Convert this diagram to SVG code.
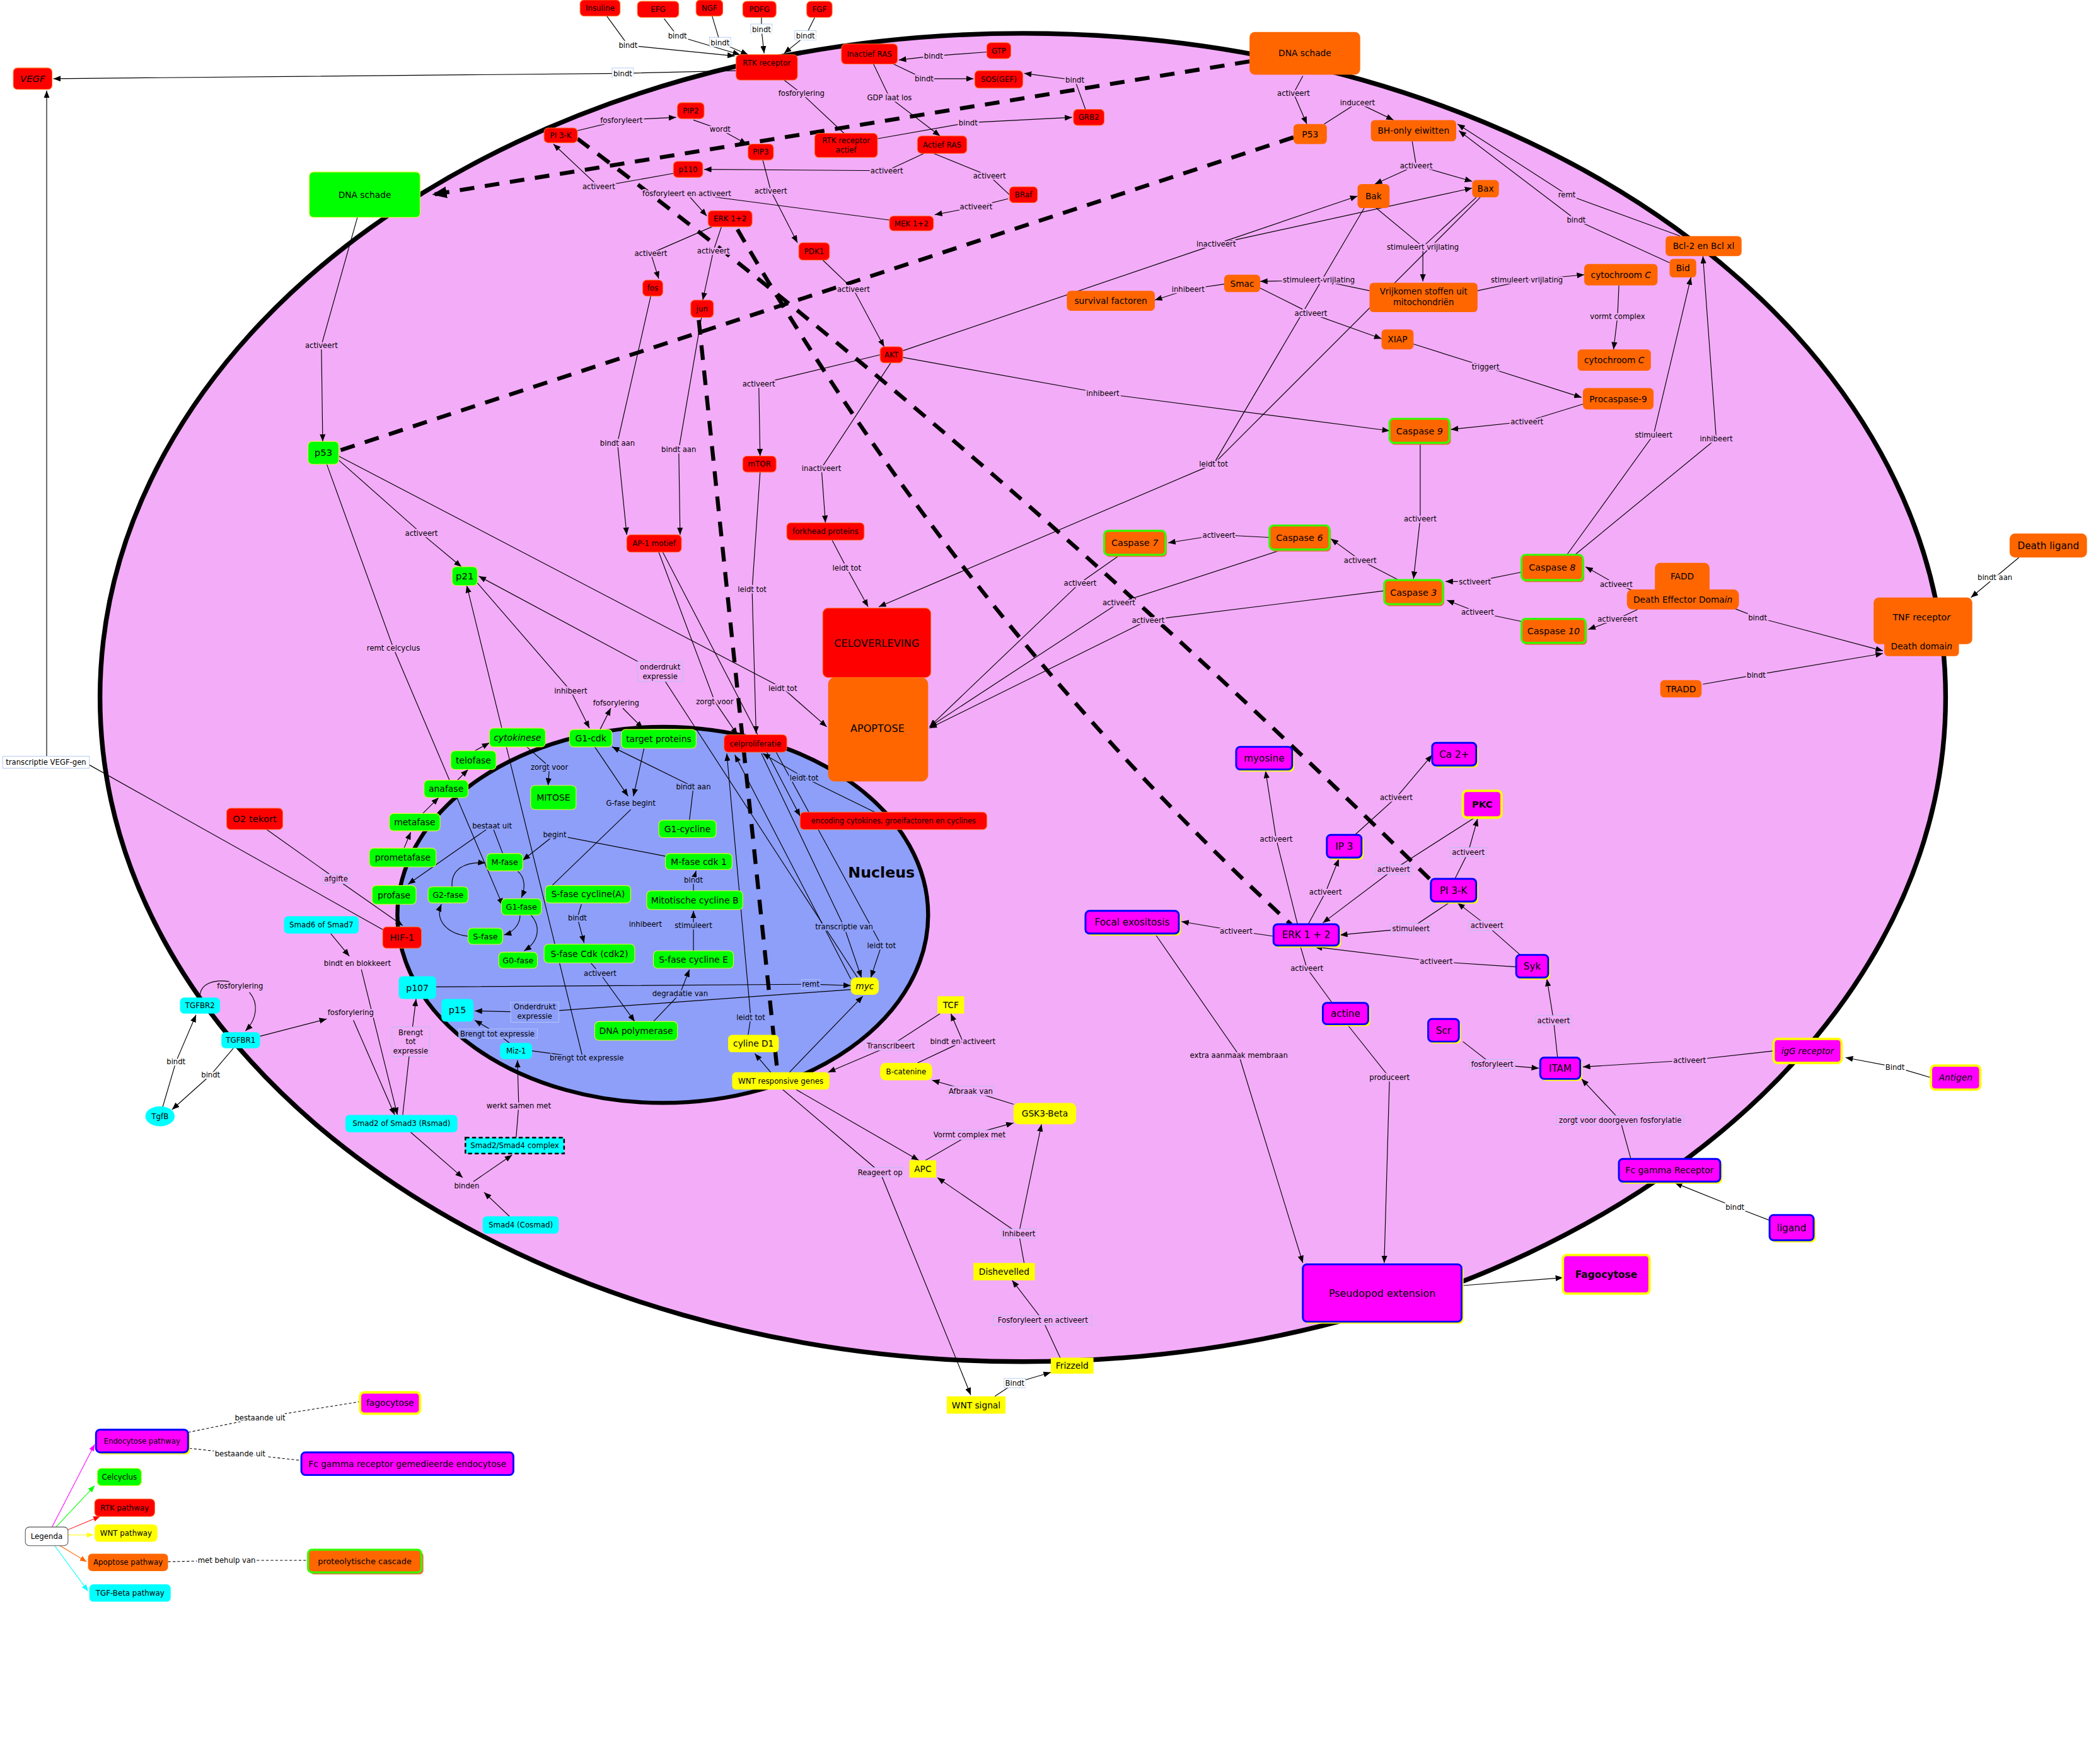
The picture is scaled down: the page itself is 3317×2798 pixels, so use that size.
<svg xmlns="http://www.w3.org/2000/svg" width="3317" height="2798" viewBox="0 0 3317 2798">
<style>
.t{font-family:"DejaVu Sans",Verdana,sans-serif;text-anchor:middle;fill:#000}
.f54{font-size:5.4px}.f56{font-size:5.6px}.f6{font-size:6px}.f63{font-size:6.3px}.f65{font-size:6.5px}.f66{font-size:6.6px}.f68{font-size:6.8px}.f7{font-size:7px}.f72{font-size:7.2px}.f75{font-size:7.5px}.f77{font-size:7.7px}
.i{font-style:italic}.bd{font-weight:bold}
.r{fill:#ff0000;stroke:#ff6a1a;stroke-width:.5}
.o{fill:#ff6600}
.g{fill:#00ff00;stroke:#d8ff2a;stroke-width:.5}
.y{fill:#ffff00}
.c{fill:#00ffff}
.m{fill:#ff00ff;stroke:#0000ff;stroke-width:1.4}
.my{fill:#ff00ff;stroke:#ffff00;stroke-width:1.8}
.cs{fill:#ff6600;stroke:#33ff00;stroke-width:1.5}
.ysh{fill:#ffff00}.osh{fill:#e8703c}
.k{fill:none;stroke:#000;stroke-width:.55}
.a{marker-end:url(#ah)}
.dsh{fill:none;stroke:#000;stroke-width:3;stroke-dasharray:11 8}
.dl{fill:none;stroke:#000;stroke-width:.5;stroke-dasharray:2 1.5}
.l{font-family:"DejaVu Sans",Verdana,sans-serif;font-size:5.5px;text-anchor:middle;fill:#000;paint-order:stroke;stroke-width:2.2px;stroke-linejoin:round}
.p{stroke:#f3acf8}.b{stroke:#8e9ffa}.w{stroke:#ffffff}
.bxp{fill:#f3acf8;stroke:#a9c3ef;stroke-width:.4}.bxb{fill:#8e9ffa;stroke:#b9cdf3;stroke-width:.4}.bxw{fill:#ffffff;stroke:#a9c3ef;stroke-width:.4}
</style>
<defs>
<marker id="ah" viewBox="0 0 10 8" refX="10" refY="4" markerWidth="5.5" markerHeight="4.4" markerUnits="userSpaceOnUse" orient="auto"><path d="M0,0L10,4L0,8z" fill="#000"/></marker>
<marker id="big" viewBox="0 0 10 8" refX="10" refY="4" markerWidth="11" markerHeight="9" markerUnits="userSpaceOnUse" orient="auto"><path d="M0,0L10,4L0,8z" fill="#000"/></marker>
<marker id="amM" viewBox="0 0 10 8" refX="10" refY="4" markerWidth="5" markerHeight="4" markerUnits="userSpaceOnUse" orient="auto"><path d="M0,0L10,4L0,8z" fill="#ff00ff"/></marker>
<marker id="amG" viewBox="0 0 10 8" refX="10" refY="4" markerWidth="5" markerHeight="4" markerUnits="userSpaceOnUse" orient="auto"><path d="M0,0L10,4L0,8z" fill="#00ff00"/></marker>
<marker id="amR" viewBox="0 0 10 8" refX="10" refY="4" markerWidth="5" markerHeight="4" markerUnits="userSpaceOnUse" orient="auto"><path d="M0,0L10,4L0,8z" fill="#ff0000"/></marker>
<marker id="amY" viewBox="0 0 10 8" refX="10" refY="4" markerWidth="5" markerHeight="4" markerUnits="userSpaceOnUse" orient="auto"><path d="M0,0L10,4L0,8z" fill="#ffff00"/></marker>
<marker id="amO" viewBox="0 0 10 8" refX="10" refY="4" markerWidth="5" markerHeight="4" markerUnits="userSpaceOnUse" orient="auto"><path d="M0,0L10,4L0,8z" fill="#ff6600"/></marker>
<marker id="amC" viewBox="0 0 10 8" refX="10" refY="4" markerWidth="5" markerHeight="4" markerUnits="userSpaceOnUse" orient="auto"><path d="M0,0L10,4L0,8z" fill="#00ffff"/></marker>
</defs>
<rect width="3317" height="2798" fill="#fff"/>
<g transform="scale(2.1154)">
<g id="cell">
<ellipse cx="767" cy="523" rx="692" ry="498" fill="#f3acf8" stroke="#000" stroke-width="3.5"/>
<ellipse cx="497" cy="686" rx="199" ry="141" fill="#8e9ffa" stroke="#000" stroke-width="3"/>
<text class="t bd" x="661" y="658" style="font-size:11.2px">Nucleus</text>
</g>
<g id="connectors">
<path class="dsh" d="M937,46L324,146" marker-end="url(#big)"/>
<path class="dsh" d="M970,103L254,338"/>
<path class="dsh" d="M433,104Q748,340 1073,660"/>
<path class="dsh" d="M553,172Q723,467 968,693"/>
<path class="dsh" d="M524,240L583,804"/>
<path class="k a" d="M455,12L471,34L551,42"/>
<path class="k a" d="M498,14L508,27L555,41"/>
<path class="k a" d="M534,12L540,32L561,41"/>
<path class="k a" d="M571,13L571,22L573,40"/>
<path class="k a" d="M611,13L604,27L588,40"/>
<path class="k a" d="M552,53L467,55L40,59"/>
<path class="k a" d="M740,39L700,42L674,45"/>
<path class="k a" d="M670,48L693,59L730,59"/>
<path class="k a" d="M814,82L806,60L768,55"/>
<path class="k" d="M588,60L601,70L633,100"/>
<path class="k a" d="M655,48L667,73L705,102"/>
<path class="k a" d="M658,104L726,92L804,88"/>
<path class="k a" d="M433,98L466,90L507,88"/>
<path class="k a" d="M520,90L540,97L560,108"/>
<path class="k a" d="M693,115L665,128L528,127"/>
<path class="k a" d="M505,130L449,140L415,108"/>
<path class="k" d="M700,115L742,132L757,146"/>
<path class="k a" d="M756,149L732,155L701,161"/>
<path class="k a" d="M667,165L515,145L530,162"/>
<path class="k a" d="M572,120L578,143L598,182"/>
<path class="k a" d="M534,170L488,190L494,209"/>
<path class="k a" d="M541,170L535,188L527,225"/>
<path class="k a" d="M617,195L640,217L663,260"/>
<path class="k a" d="M660,266L569,288L570,342"/>
<path class="k a" d="M668,272L616,351L619,392"/>
<path class="k a" d="M677,268L827,295L1042,323"/>
<path class="k" d="M677,263L912,183"/>
<path class="k a" d="M912,183L1018,147"/>
<path class="k a" d="M912,183L1104,141"/>
<path class="k a" d="M488,222L463,332L470,401"/>
<path class="k a" d="M526,238L509,337L510,401"/>
<path class="k a" d="M268,163L241,259L242,331"/>
<path class="k a" d="M254,345L316,400L346,425"/>
<path class="k a" d="M254,342L587,516L620,545"/>
<path class="k a" d="M245,348L295,486L377,679"/>
<path class="k a" d="M357,436L428,518L442,546"/>
<path class="k a" d="M643,733L495,505L359,432"/>
<path class="k a" d="M450,547L458,531"/>
<path class="k a" d="M467,531L482,546"/>
<path class="k a" d="M399,788L437,793L350,439"/>
<path class="k a" d="M382,782L373,775L356,765"/>
<path class="k a" d="M395,560L412,575L411,589"/>
<path class="k a" d="M377,640L369,619L306,663"/>
<path class="k a" d="M499,642L416,626L392,645"/>
<path class="k a" d="M520,668L520,660L522,653"/>
<path class="k a" d="M520,713L520,694L520,683"/>
<path class="k a" d="M436,678L433,688L438,707"/>
<path class="k a" d="M443,722L450,730L476,766"/>
<path class="k a" d="M490,766L510,745L517,727"/>
<path class="k a" d="M446,560L471,597"/>
<path class="k a" d="M483,561L475,597"/>
<path class="k" d="M473,607L414,664"/>
<path class="k a" d="M517,615L520,590L459,560"/>
<path class="k a" d="M339,665C338,652 348,646 364,647"/>
<path class="k a" d="M388,653C394,658 394,666 391,673"/>
<path class="k a" d="M390,686C390,693 385,699 378,701"/>
<path class="k a" d="M351,702C335,700 326,690 331,678"/>
<path class="k a" d="M398,686C406,695 404,706 393,713"/>
<path class="k a" d="M303,636L308,624"/>
<path class="k a" d="M317,610L329,598"/>
<path class="k a" d="M343,585L351,577"/>
<path class="k a" d="M356,563L367,557"/>
<path class="k a" d="M494,414L536,526L553,551"/>
<path class="k a" d="M497,414L600,612"/>
<path class="k a" d="M656,609L603,583L572,565"/>
<path class="k a" d="M570,354L564,442L567,550"/>
<path class="k a" d="M561,776L563,763L545,565"/>
<path class="k a" d="M638,734L551,566"/>
<path class="k a" d="M571,565L633,695L646,733"/>
<path class="k a" d="M582,564L661,709L653,733"/>
<path class="k a" d="M578,804L566,790"/>
<path class="k a" d="M592,804L647,747"/>
<path class="k a" d="M705,760L668,784L621,804"/>
<path class="k a" d="M688,797L722,781L713,760"/>
<path class="k a" d="M760,828L728,818L699,810"/>
<path class="k a" d="M694,870L727,851L760,842"/>
<path class="k a" d="M597,817L689,870"/>
<path class="k a" d="M587,817L660,879L728,1046"/>
<path class="k" d="M768,947L764,925"/>
<path class="k a" d="M764,925L781,843"/>
<path class="k a" d="M764,925L703,883"/>
<path class="k a" d="M795,1018L782,990L759,960"/>
<path class="k a" d="M746,1047L761,1037L788,1029"/>
<path class="k a" d="M122,830L132,796L147,761"/>
<path class="k a" d="M175,786L158,806L129,832"/>
<path class="k" d="M150,747C150,738 160,734 172,736"/>
<path class="k a" d="M187,744C194,752 193,764 184,773"/>
<path class="k a" d="M195,777L245,764"/>
<path class="k a" d="M265,765L296,836"/>
<path class="k a" d="M248,700L262,717"/>
<path class="k a" d="M271,727L298,836"/>
<path class="k a" d="M302,836L308,781L312,749"/>
<path class="k a" d="M308,849L347,883"/>
<path class="k a" d="M382,912L363,894"/>
<path class="k a" d="M355,886L384,866"/>
<path class="k a" d="M387,853L389,829L388,795"/>
<path class="k a" d="M327,740L608,738L638,739"/>
<path class="k a" d="M638,742L401,759L356,758"/>
<path class="k a" d="M200,622L252,659L302,694"/>
<path class="k" d="M287,697L66,573"/>
<path class="k a" d="M35,567L35,68"/>
<path class="k a" d="M977,57L970,70L980,93"/>
<path class="k a" d="M993,93L1018,77L1045,90"/>
<path class="k" d="M1059,106L1062,124"/>
<path class="k a" d="M1062,124L1031,138"/>
<path class="k a" d="M1062,124L1104,136"/>
<path class="k a" d="M1260,177L1175,146L1093,93"/>
<path class="k a" d="M1252,197L1182,165L1094,98"/>
<path class="k" d="M1032,156L1067,185"/>
<path class="k" d="M1107,148L1067,185"/>
<path class="k a" d="M1067,185L1067,211"/>
<path class="k a" d="M1027,218L989,210L945,211"/>
<path class="k a" d="M1108,218L1145,210L1188,206"/>
<path class="k a" d="M918,213L891,217L866,225"/>
<path class="k a" d="M945,216L983,235L1036,254"/>
<path class="k a" d="M1214,214L1213,237L1210,262"/>
<path class="k a" d="M1060,258L1114,275L1186,298"/>
<path class="k a" d="M1187,303L1145,316L1088,322"/>
<path class="k a" d="M1065,332L1065,389L1060,434"/>
<path class="k a" d="M1049,435L1020,420L998,404"/>
<path class="k a" d="M952,403L914,401L876,407"/>
<path class="k a" d="M1141,429L1106,436L1084,436"/>
<path class="k a" d="M1141,466L1108,459L1085,450"/>
<path class="k a" d="M1225,443L1212,438L1189,425"/>
<path class="k a" d="M1228,457L1213,464L1191,472"/>
<path class="k a" d="M1175,416L1240,326L1268,208"/>
<path class="k a" d="M1181,416L1287,329L1277,192"/>
<path class="k a" d="M840,416L810,437L697,545"/>
<path class="k a" d="M962,412L839,452L697,545"/>
<path class="k a" d="M1038,443L861,465L697,546"/>
<path class="k" d="M1023,156L910,348"/>
<path class="k" d="M1110,148L910,348"/>
<path class="k a" d="M910,348L659,455"/>
<path class="k a" d="M624,405L635,426L651,455"/>
<path class="k a" d="M1514,418L1496,433L1478,448"/>
<path class="k a" d="M1300,456L1318,463L1412,488"/>
<path class="k a" d="M1277,513L1317,506L1412,490"/>
<path class="k a" d="M955,702L927,698L886,691"/>
<path class="k a" d="M973,693L957,629L949,578"/>
<path class="k a" d="M981,693L994,669L1004,644"/>
<path class="k a" d="M1016,626L1047,598L1074,566"/>
<path class="k a" d="M1106,613L1045,652L992,692"/>
<path class="k a" d="M1091,659L1101,639L1108,614"/>
<path class="k a" d="M1088,676L1058,696L1005,701"/>
<path class="k a" d="M1140,716L1115,694L1093,677"/>
<path class="k a" d="M1137,725L1077,721L986,710"/>
<path class="k" d="M975,709L980,726L999,752"/>
<path class="k a" d="M1168,793L1165,765L1160,734"/>
<path class="k a" d="M1097,781L1119,798L1154,801"/>
<path class="k a" d="M1330,788L1267,795L1187,800"/>
<path class="k a" d="M1448,808L1421,800L1384,793"/>
<path class="k a" d="M1223,869L1215,840L1186,809"/>
<path class="k a" d="M1327,915L1301,905L1256,887"/>
<path class="k a" d="M866,700L929,791L977,947"/>
<path class="k a" d="M1011,769L1042,808L1038,947"/>
<path class="k a" d="M1096,964L1172,958"/>
<path d="M39,1145L71,1083" fill="none" stroke="#ff00ff" stroke-width=".5" marker-end="url(#amM)"/>
<path d="M42,1145L71,1114" fill="none" stroke="#00ff00" stroke-width=".5" marker-end="url(#amG)"/>
<path d="M51,1147L75,1137" fill="none" stroke="#ff0000" stroke-width=".5" marker-end="url(#amR)"/>
<path d="M51,1151L70,1151" fill="none" stroke="#ffff00" stroke-width=".5" marker-end="url(#amY)"/>
<path d="M45,1159L65,1171" fill="none" stroke="#ff6600" stroke-width=".5" marker-end="url(#amO)"/>
<path d="M41,1159L66,1193" fill="none" stroke="#00ffff" stroke-width=".5" marker-end="url(#amC)"/>
<path class="dl" d="M141,1074L195,1063L270,1051"/>
<path class="dl" d="M142,1086L180,1090L225,1095"/>
<path class="dl" d="M126,1171L170,1170L231,1170"/>
</g>
<g id="connector-labels">
<text class="l w" x="471" y="36">bindt</text>
<text class="l w" x="508" y="29">bindt</text>
<rect class="bxw" x="532" y="28" width="16" height="7"/><text class="l w" x="540" y="34">bindt</text>
<rect class="bxw" x="563" y="18" width="16" height="7"/><text class="l w" x="571" y="24">bindt</text>
<rect class="bxw" x="596" y="23" width="16" height="7"/><text class="l w" x="604" y="29">bindt</text>
<rect class="bxw" x="459" y="51" width="16" height="7"/><text class="l w" x="467" y="57">bindt</text>
<text class="l p" x="700" y="44">bindt</text>
<text class="l p" x="693" y="61">bindt</text>
<text class="l p" x="806" y="62">bindt</text>
<text class="l p" x="601" y="72">fosforylering</text>
<text class="l p" x="667" y="75">GDP laat los</text>
<text class="l p" x="726" y="94">bindt</text>
<text class="l p" x="466" y="92">fosforyleert</text>
<text class="l p" x="540" y="99">wordt</text>
<text class="l p" x="665" y="130">activeert</text>
<text class="l p" x="449" y="142">activeert</text>
<text class="l p" x="742" y="134">activeert</text>
<text class="l p" x="732" y="157">activeert</text>
<text class="l p" x="515" y="147">fosforyleert en activeert</text>
<text class="l p" x="578" y="145">activeert</text>
<text class="l p" x="488" y="192">activeert</text>
<text class="l p" x="535" y="190">activeert</text>
<text class="l p" x="640" y="219">activeert</text>
<text class="l p" x="569" y="290">activeert</text>
<text class="l p" x="616" y="353">inactiveert</text>
<text class="l p" x="827" y="297">inhibeert</text>
<text class="l p" x="912" y="185">inactiveert</text>
<text class="l p" x="463" y="334">bindt aan</text>
<text class="l p" x="509" y="339">bindt aan</text>
<text class="l p" x="241" y="261">activeert</text>
<text class="l p" x="316" y="402">activeert</text>
<text class="l p" x="587" y="518">leidt tot</text>
<text class="l p" x="295" y="488">remt celcyclus</text>
<text class="l p" x="428" y="520">inhibeert</text>
<rect class="bxp" x="478" y="496" width="34" height="15"/><text class="l p" x="495" y="502">onderdrukt<tspan x="495" dy="7">expressie</tspan></text>
<text class="l p" x="462" y="529">fofsorylering</text>
<text class="l p" x="536" y="528">zorgt voor</text>
<text class="l p" x="564" y="444">leidt tot</text>
<text class="l p" x="635" y="428">leidt tot</text>
<text class="l b" x="412" y="577">zorgt voor</text>
<text class="l b" x="473" y="604">G-fase begint</text>
<text class="l b" x="520" y="592">bindt aan</text>
<text class="l b" x="369" y="621">bestaat uit</text>
<text class="l b" x="416" y="628">begint</text>
<text class="l b" x="520" y="662">bindt</text>
<text class="l b" x="520" y="696">stimuleert</text>
<text class="l b" x="433" y="690">bindt</text>
<text class="l b" x="484" y="695">inhibeert</text>
<text class="l b" x="450" y="732">activeert</text>
<text class="l b" x="510" y="747">degradatie van</text>
<rect class="bxb" x="601" y="734.5" width="14" height="7"/><text class="l b" x="608" y="740">remt</text>
<rect class="bxb" x="383" y="751.5" width="36" height="15"/><text class="l b" x="401" y="757">Onderdrukt<tspan x="401" dy="7">expressie</tspan></text>
<rect class="bxb" x="344" y="771.5" width="59" height="7"/><text class="l b" x="373" y="777">Brengt tot expressie</text>
<text class="l b" x="440" y="795">brengt tot expressie</text>
<text class="l b" x="563" y="765">leidt tot</text>
<text class="l b" x="633" y="697">transcriptie van</text>
<text class="l b" x="661" y="711">leidt tot</text>
<text class="l b" x="603" y="585">leidt tot</text>
<rect class="bxp" x="648" y="780.5" width="40" height="7"/><text class="l p" x="668" y="786">Transcribeert</text>
<text class="l p" x="722" y="783">bindt en activeert</text>
<rect class="bxp" x="711" y="814.5" width="34" height="7"/><text class="l p" x="728" y="820">Afbraak van</text>
<rect class="bxp" x="701" y="847.5" width="52" height="7"/><text class="l p" x="727" y="853">Vormt complex met</text>
<rect class="bxp" x="643" y="875.5" width="34" height="7"/><text class="l p" x="660" y="881">Reageert op</text>
<rect class="bxp" x="751" y="921.5" width="26" height="7"/><text class="l p" x="764" y="927">Inhibeert</text>
<rect class="bxp" x="745" y="986.5" width="74" height="7"/><text class="l p" x="782" y="992">Fosforyleert en activeert</text>
<rect class="bxw" x="753" y="1033.5" width="16" height="7"/><text class="l w" x="761" y="1039">Bindt</text>
<text class="l p" x="180" y="741">fosforylering</text>
<text class="l w" x="132" y="798">bindt</text>
<text class="l w" x="158" y="808">bindt</text>
<text class="l p" x="263" y="761">fosforylering</text>
<text class="l p" x="268" y="724">bindt en blokkeert</text>
<rect class="bxp" x="294" y="770" width="28" height="22"/><text class="l p" x="308" y="776">Brengt<tspan x="308" dy="7">tot</tspan><tspan x="308" dy="7">expressie</tspan></text>
<text class="l p" x="350" y="891">binden</text>
<text class="l p" x="389" y="831">werkt samen met</text>
<rect class="bxp" x="242" y="655.5" width="20" height="7"/><text class="l p" x="252" y="661">afgifte</text>
<rect class="bxw" x="2" y="567" width="65" height="9"/><text class="l w" x="34.5" y="573.5">transcriptie VEGF-gen</text>
<text class="l p" x="970" y="72">activeert</text>
<text class="l p" x="1018" y="79">induceert</text>
<text class="l p" x="1062" y="126">activeert</text>
<text class="l p" x="1175" y="148">remt</text>
<text class="l p" x="1182" y="167">bindt</text>
<text class="l p" x="1067" y="187">stimuleert vrijlating</text>
<text class="l p" x="989" y="212">stimuleert vrijlating</text>
<text class="l p" x="1145" y="212">stimuleert vrijlating</text>
<text class="l p" x="891" y="219">inhibeert</text>
<text class="l p" x="983" y="237">activeert</text>
<text class="l p" x="1213" y="239">vormt complex</text>
<text class="l p" x="1114" y="277">triggert</text>
<text class="l p" x="1145" y="318">activeert</text>
<text class="l p" x="1065" y="391">activeert</text>
<text class="l p" x="1020" y="422">activeert</text>
<text class="l p" x="914" y="403">activeert</text>
<text class="l p" x="1106" y="438">sctiveert</text>
<text class="l p" x="1108" y="461">activeert</text>
<text class="l p" x="1212" y="440">activeert</text>
<text class="l p" x="1213" y="466">activereert</text>
<text class="l p" x="1240" y="328">stimuleert</text>
<text class="l p" x="1287" y="331">inhibeert</text>
<text class="l p" x="810" y="439">activeert</text>
<text class="l p" x="839" y="454">activeert</text>
<text class="l p" x="861" y="467">activeert</text>
<text class="l p" x="910" y="350">leidt tot</text>
<text class="l w" x="1496" y="435">bindt aan</text>
<text class="l p" x="1318" y="465">bindt</text>
<text class="l p" x="1317" y="508">bindt</text>
<text class="l p" x="927" y="700">activeert</text>
<text class="l p" x="957" y="631">activeert</text>
<text class="l p" x="994" y="671">activeert</text>
<text class="l p" x="1047" y="600">activeert</text>
<rect class="bxp" x="1031.5" y="648.5" width="27" height="7"/><text class="l p" x="1045" y="654">activeert</text>
<rect class="bxp" x="1087.5" y="635.5" width="27" height="7"/><text class="l p" x="1101" y="641">activeert</text>
<rect class="bxp" x="1043" y="692.5" width="30" height="7"/><text class="l p" x="1058" y="698">stimuleert</text>
<rect class="bxp" x="1101.5" y="690.5" width="27" height="7"/><text class="l p" x="1115" y="696">activeert</text>
<text class="l p" x="1077" y="723">activeert</text>
<text class="l p" x="980" y="728">activeert</text>
<rect class="bxp" x="1151.5" y="761.5" width="27" height="7"/><text class="l p" x="1165" y="767">activeert</text>
<rect class="bxp" x="1102" y="794.5" width="34" height="7"/><text class="l p" x="1119" y="800">fosforyleert</text>
<text class="l p" x="1267" y="797">activeert</text>
<text class="l w" x="1421" y="802">Bindt</text>
<rect class="bxp" x="1167" y="836.5" width="96" height="7"/><text class="l p" x="1215" y="842">zorgt voor doorgeven fosforylatie</text>
<text class="l w" x="1301" y="907">bindt</text>
<text class="l p" x="929" y="793">extra aanmaak membraan</text>
<text class="l p" x="1042" y="810">produceert</text>
<text class="l w" x="195" y="1065">bestaande uit</text>
<text class="l w" x="180" y="1092">bestaande uit</text>
<text class="l w" x="170" y="1172">met behulp van</text>
</g>
<g id="n-insuline"><rect class="r" x="435" y="0" width="30" height="12" rx="3"/><text class="t f56" x="450" y="8">Insuline</text></g>
<g id="n-efg"><rect class="r" x="478" y="1" width="31" height="12" rx="3"/><text class="t f56" x="493.5" y="9">EFG</text></g>
<g id="n-ngf"><rect class="r" x="522" y="0" width="20" height="12" rx="3"/><text class="t f56" x="532" y="8">NGF</text></g>
<g id="n-pdfg"><rect class="r" x="557" y="1" width="25" height="12" rx="3"/><text class="t f56" x="569.5" y="9">PDFG</text></g>
<g id="n-fgf"><rect class="r" x="605" y="1" width="19" height="12" rx="3"/><text class="t f56" x="614.5" y="9">FGF</text></g>
<g id="n-rtk"><rect class="r" x="552" y="41" width="46" height="19" rx="3"/><text class="t f56" x="575" y="49">RTK receptor</text></g>
<g id="n-vegf"><rect class="r" x="10" y="51" width="29" height="16" rx="3"/><text class="t f7 i" x="24.5" y="61.5">VEGF</text></g>
<g id="n-inras"><rect class="r" x="631" y="33" width="42" height="15" rx="3"/><text class="t f56" x="652" y="42.5">Inactief RAS</text></g>
<g id="n-gtp"><rect class="r" x="740" y="32" width="18" height="12" rx="3"/><text class="t f56" x="749" y="40">GTP</text></g>
<g id="n-sos"><rect class="r" x="731" y="53" width="36" height="13" rx="3"/><text class="t f56" x="749" y="61.5">SOS(GEF)</text></g>
<g id="n-grb2"><rect class="r" x="805" y="82" width="23" height="12" rx="3"/><text class="t f56" x="816.5" y="90">GRB2</text></g>
<g id="n-pip2"><rect class="r" x="508" y="77" width="20" height="12" rx="3"/><text class="t f56" x="518" y="85">PIP2</text></g>
<g id="n-pi3k-r"><rect class="r" x="408" y="96" width="25" height="11" rx="3"/><text class="t f56" x="420.5" y="103.5">PI 3-K</text></g>
<g id="n-pip3"><rect class="r" x="561" y="108" width="19" height="12" rx="3"/><text class="t f56" x="570.5" y="116">PIP3</text></g>
<g id="n-rtka"><rect class="r" x="611" y="100" width="47" height="18" rx="3"/><text class="t f56" x="634.5" y="107.5">RTK receptor<tspan x="634.5" dy="7">actief</tspan></text></g>
<g id="n-acras"><rect class="r" x="688" y="102" width="37" height="13" rx="3"/><text class="t f56" x="706.5" y="110.5">Actief RAS</text></g>
<g id="n-p110"><rect class="r" x="505" y="121" width="22" height="12" rx="3"/><text class="t f56" x="516" y="129">p110</text></g>
<g id="n-braf"><rect class="r" x="757" y="140" width="21" height="12" rx="3"/><text class="t f56" x="767.5" y="148">BRaf</text></g>
<g id="n-erk-r"><rect class="r" x="531" y="158" width="33" height="12" rx="3"/><text class="t f56" x="547.5" y="166">ERK 1+2</text></g>
<g id="n-mek"><rect class="r" x="667" y="162" width="33" height="11" rx="3"/><text class="t f56" x="683.5" y="169.5">MEK 1+2</text></g>
<g id="n-pdk1"><rect class="r" x="599" y="182" width="23" height="13" rx="3"/><text class="t f56" x="610.5" y="190.5">PDK1</text></g>
<g id="n-fos"><rect class="r" x="482" y="210" width="15" height="12" rx="3"/><text class="t f56" x="489.5" y="218">fos</text></g>
<g id="n-jun"><rect class="r" x="518" y="225" width="17" height="13" rx="3"/><text class="t f56" x="526.5" y="233.5">jun</text></g>
<g id="n-akt"><rect class="r" x="660" y="260" width="17" height="12" rx="3"/><text class="t f56" x="668.5" y="268">AKT</text></g>
<g id="n-mtor"><rect class="r" x="557" y="342" width="25" height="12" rx="3"/><text class="t f56" x="569.5" y="350">mTOR</text></g>
<g id="n-ap1"><rect class="r" x="470" y="401" width="41" height="13" rx="3"/><text class="t f56" x="490.5" y="409.5">AP-1 motief</text></g>
<g id="n-fork"><rect class="r" x="590" y="392" width="58" height="13" rx="3"/><text class="t f56" x="619" y="400.5">forkhead proteins</text></g>
<g id="n-celo"><rect class="r" x="617" y="456" width="81" height="52" rx="4"/><text class="t f77" x="657.5" y="484.8">CELOVERLEVING</text></g>
<g id="n-apop"><rect class="o" x="621" y="508" width="75" height="78" rx="5"/><text class="t" x="658" y="548.7" style="font-size:7.6px">APOPTOSE</text></g>
<g id="n-celp"><rect class="r" x="543" y="551" width="47" height="13" rx="3"/><text class="t f56" x="566.5" y="559.5">celproliferatie</text></g>
<g id="n-enc"><rect class="r" x="600" y="609" width="140" height="13" rx="3"/><text class="t f54" x="670" y="617.5">encoding cytokines, groeifactoren en cyclines</text></g>
<g id="n-hif"><rect class="r" x="287" y="695" width="29" height="16" rx="3"/><text class="t f7" x="301.5" y="705.5">HIF-1</text></g>
<g id="n-o2"><rect class="r" x="170" y="606" width="42" height="16" rx="3"/><text class="t f7" x="191" y="616.5">O2 tekort</text></g>
<g id="n-dna-o"><rect class="o" x="937" y="24" width="83" height="32" rx="4"/><text class="t f65" x="978.5" y="42.3">DNA schade</text></g>
<g id="n-p53-o"><rect class="o" x="970" y="93" width="25" height="15" rx="3"/><text class="t f66" x="982.5" y="102.9">P53</text></g>
<g id="n-bh"><rect class="o" x="1028" y="90" width="64" height="16" rx="3"/><text class="t f65" x="1060" y="100.4">BH-only eiwitten</text></g>
<g id="n-bak"><rect class="o" x="1018" y="138" width="24" height="18" rx="3"/><text class="t f65" x="1030" y="149.4">Bak</text></g>
<g id="n-bax"><rect class="o" x="1104" y="135" width="20" height="13" rx="3"/><text class="t f65" x="1114" y="143.9">Bax</text></g>
<g id="n-bcl"><rect class="o" x="1249" y="177" width="57" height="15" rx="3"/><text class="t f65" x="1277.5" y="186.9">Bcl-2 en Bcl xl</text></g>
<g id="n-bid"><rect class="o" x="1252" y="194" width="20" height="14" rx="3"/><text class="t f65" x="1262" y="203.4">Bid</text></g>
<g id="n-cytc1"><rect class="o" x="1188" y="198" width="55" height="16" rx="3"/><text class="t f65" x="1215.5" y="208.4">cytochroom <tspan class="i">C</tspan></text></g>
<g id="n-smac"><rect class="o" x="918" y="206" width="27" height="13" rx="3"/><text class="t f65" x="931.5" y="214.9">Smac</text></g>
<g id="n-surv"><rect class="o" x="800" y="218" width="66" height="15" rx="3"/><text class="t f65" x="833" y="227.9">survival factoren</text></g>
<g id="n-vrij"><rect class="o" x="1027" y="212" width="81" height="22" rx="3"/><text class="t f63" x="1067.5" y="220.7">Vrijkomen stoffen uit<tspan x="1067.5" dy="8.1">mitochondriën</tspan></text></g>
<g id="n-xiap"><rect class="o" x="1036" y="247" width="24" height="15" rx="3"/><text class="t f65" x="1048" y="256.9">XIAP</text></g>
<g id="n-cytc2"><rect class="o" x="1183" y="262" width="55" height="16" rx="3"/><text class="t f65" x="1210.5" y="272.4">cytochroom <tspan class="i">C</tspan></text></g>
<g id="n-proc9"><rect class="o" x="1187" y="291" width="53" height="16" rx="3"/><text class="t f65" x="1213.5" y="301.4">Procaspase-9</text></g>
<g id="n-cas9"><rect class="osh" x="1043" y="315.5" width="45" height="18" rx="3"/><rect class="cs" x="1042" y="314" width="45" height="18" rx="3"/><text class="t f68" x="1064.5" y="325.5">Caspase <tspan class="i">9</tspan></text></g>
<g id="n-cas6"><rect class="osh" x="953" y="395.5" width="45" height="18" rx="3"/><rect class="cs" x="952" y="394" width="45" height="18" rx="3"/><text class="t f68" x="974.5" y="405.5">Caspase <tspan class="i">6</tspan></text></g>
<g id="n-cas7"><rect class="osh" x="829" y="399.5" width="46" height="18" rx="3"/><rect class="cs" x="828" y="398" width="46" height="18" rx="3"/><text class="t f68" x="851" y="409.5">Caspase <tspan class="i">7</tspan></text></g>
<g id="n-cas3"><rect class="osh" x="1039" y="436.5" width="44" height="18" rx="3"/><rect class="cs" x="1038" y="435" width="44" height="18" rx="3"/><text class="t f68" x="1060" y="446.5">Caspase <tspan class="i">3</tspan></text></g>
<g id="n-cas8"><rect class="osh" x="1142" y="417.5" width="46" height="19" rx="3"/><rect class="cs" x="1141" y="416" width="46" height="19" rx="3"/><text class="t f68" x="1164" y="428">Caspase <tspan class="i">8</tspan></text></g>
<g id="n-cas10"><rect class="osh" x="1142" y="465.5" width="48" height="18" rx="3"/><rect class="cs" x="1141" y="464" width="48" height="18" rx="3"/><text class="t f68" x="1165" y="475.5">Caspase <tspan class="i">10</tspan></text></g>
<g id="n-fadd"><rect class="o" x="1241" y="422" width="41" height="24" rx="4"/><text class="t f65" x="1261.5" y="434.3">FADD</text></g>
<g id="n-ded"><rect class="o" x="1220" y="442" width="84" height="15" rx="4"/><text class="t f65" x="1262" y="451.8">Death Effector Doma<tspan class="i">in</tspan></text></g>
<g id="n-tradd"><rect class="o" x="1245" y="510" width="31" height="13" rx="3"/><text class="t f65" x="1260.5" y="518.9">TRADD</text></g>
<g id="n-dlig"><rect class="o" x="1507" y="400" width="58" height="18" rx="4"/><text class="t f72" x="1536" y="411.6">Death ligand</text></g>
<g id="n-tnf"><rect class="o" x="1405" y="448" width="74" height="35" rx="4"/><text class="t" x="1441" y="465.2" style="font-size:6.7px">TNF recepto<tspan class="i">r</tspan></text></g>
<g id="n-dd"><rect class="o" x="1413" y="479" width="56" height="13" rx="3"/><text class="t f65" x="1441" y="486.8">Death domai<tspan class="i">n</tspan></text></g>
<g id="n-dna-g"><rect class="g" x="232" y="129" width="83" height="34" rx="3"/><text class="t f65" x="273.5" y="148.3">DNA schade</text></g>
<g id="n-p53-g"><rect class="g" x="231" y="331" width="23" height="17" rx="3"/><text class="t f7" x="242.5" y="342">p53</text></g>
<g id="n-p21"><rect class="g" x="339" y="425" width="19" height="14" rx="3"/><text class="t f7" x="348.5" y="434.5">p21</text></g>
<g id="n-cytok"><rect class="g" x="367" y="546" width="42" height="14" rx="3"/><text class="t f66 i" x="388" y="555.4">cytokinese</text></g>
<g id="n-g1cdk"><rect class="g" x="427" y="547" width="32" height="13" rx="3"/><text class="t f66" x="443" y="555.9">G1-cdk</text></g>
<g id="n-target"><rect class="g" x="466" y="547" width="56" height="14" rx="3"/><text class="t f66" x="494" y="556.4">target proteins</text></g>
<g id="n-telo"><rect class="g" x="338" y="563" width="34" height="14" rx="3"/><text class="t f66" x="355" y="572.4">telofase</text></g>
<g id="n-ana"><rect class="g" x="318" y="585" width="33" height="13" rx="3"/><text class="t f66" x="334.5" y="593.9">anafase</text></g>
<g id="n-mitose"><rect class="g" x="398" y="589" width="34" height="18" rx="3"/><text class="t f66" x="415" y="600.4">MITOSE</text></g>
<g id="n-meta"><rect class="g" x="292" y="610" width="38" height="13" rx="3"/><text class="t f66" x="311" y="618.9">metafase</text></g>
<g id="n-g1cyc"><rect class="g" x="494" y="615" width="43" height="13" rx="3"/><text class="t f66" x="515.5" y="623.9">G1-cycline</text></g>
<g id="n-prometa"><rect class="g" x="277" y="636" width="50" height="14" rx="3"/><text class="t f66" x="302" y="645.4">prometafase</text></g>
<g id="n-mfase"><rect class="g" x="365" y="640" width="27" height="13" rx="3"/><text class="t f6" x="378.5" y="648.7">M-fase</text></g>
<g id="n-mcdk"><rect class="g" x="499" y="640" width="50" height="12" rx="3"/><text class="t f66" x="524" y="648.4">M-fase cdk 1</text></g>
<g id="n-pro"><rect class="g" x="279" y="664" width="33" height="14" rx="3"/><text class="t f66" x="295.5" y="673.4">profase</text></g>
<g id="n-g2"><rect class="g" x="321" y="665" width="30" height="12" rx="3"/><text class="t f6" x="336" y="673.2">G2-fase</text></g>
<g id="n-scyca"><rect class="g" x="409" y="664" width="64" height="13" rx="3"/><text class="t f66" x="441" y="672.9">S-fase cycline(A)</text></g>
<g id="n-g1f"><rect class="g" x="376" y="674" width="30" height="12" rx="3"/><text class="t f6" x="391" y="682.2">G1-fase</text></g>
<g id="n-mcycb"><rect class="g" x="485" y="668" width="72" height="14" rx="3"/><text class="t f66" x="521" y="677.4">Mitotische cycline B</text></g>
<g id="n-sf"><rect class="g" x="351" y="696" width="26" height="12" rx="3"/><text class="t f6" x="364" y="704.2">S-fase</text></g>
<g id="n-g0"><rect class="g" x="374" y="714" width="29" height="12" rx="3"/><text class="t f6" x="388.5" y="722.2">G0-fase</text></g>
<g id="n-scdk"><rect class="g" x="408" y="708" width="68" height="14" rx="3"/><text class="t f66" x="442" y="717.4">S-fase Cdk (cdk2)</text></g>
<g id="n-scyce"><rect class="g" x="490" y="713" width="60" height="13" rx="3"/><text class="t f66" x="520" y="721.9">S-fase cycline E</text></g>
<g id="n-dnapol"><rect class="g" x="446" y="766" width="62" height="14" rx="3"/><text class="t f66" x="477" y="775.4">DNA polymerase</text></g>
<g id="n-smad67"><rect class="c" x="213" y="687" width="56" height="13" rx="3"/><text class="t f56" x="241" y="695.5">Smad6 of Smad7</text></g>
<g id="n-tgfbr2"><rect class="c" x="135" y="748" width="30" height="12" rx="3"/><text class="t f56" x="150" y="756">TGFBR2</text></g>
<g id="n-tgfbr1"><rect class="c" x="166" y="774" width="29" height="12" rx="3"/><text class="t f56" x="180.5" y="782">TGFBR1</text></g>
<g id="n-tgfb"><ellipse class="c" cx="120" cy="837" rx="11" ry="7.5"/><text class="t f56" x="120" y="839">TgfB</text></g>
<g id="n-smad23"><rect class="c" x="259" y="836" width="84" height="13" rx="3"/><text class="t f56" x="301" y="844.5">Smad2 of Smad3 (Rsmad)</text></g>
<g id="n-smad24"><rect class="c" x="349" y="853" width="74" height="12" stroke="#000" stroke-width="1.2" stroke-dasharray="3 2"/><text class="t f56" x="386" y="861">Smad2/Smad4 complex</text></g>
<g id="n-smad4"><rect class="c" x="362" y="912" width="57" height="13" rx="3"/><text class="t f56" x="390.5" y="920.5">Smad4 (Cosmad)</text></g>
<g id="n-p107"><rect class="c" x="299" y="732" width="28" height="17" rx="3"/><text class="t f66" x="313" y="742.9">p107</text></g>
<g id="n-p15"><rect class="c" x="331" y="749" width="24" height="17" rx="3"/><text class="t f68" x="343" y="759.9">p15</text></g>
<g id="n-miz"><rect class="c" x="375" y="782" width="24" height="12" rx="3"/><text class="t f56" x="387" y="790">Miz-1</text></g>
<g id="n-myc"><rect class="y" x="638" y="733" width="21" height="13" rx="4"/><text class="t f65 i" x="648.5" y="741.9">myc</text></g>
<g id="n-cycd1"><rect class="y" x="546" y="776" width="38" height="13" rx="3"/><text class="t f65" x="565" y="784.9">cyline D1</text></g>
<g id="n-wntg"><rect class="y" x="549" y="804" width="73" height="13" rx="3"/><text class="t f56" x="585.5" y="812.5">WNT responsive genes</text></g>
<g id="n-tcf"><rect class="y" x="703" y="747" width="20" height="13"/><text class="t f65" x="713" y="755.9">TCF</text></g>
<g id="n-bcat"><rect class="y" x="660" y="797" width="39" height="13" rx="4"/><text class="t f56" x="679.5" y="805.5">B-catenine</text></g>
<g id="n-gsk"><rect class="y" x="760" y="827" width="47" height="16" rx="4"/><text class="t f65" x="783.5" y="837.4">GSK3-Beta</text></g>
<g id="n-apc"><rect class="y" x="682" y="870" width="20" height="13"/><text class="t f65" x="692" y="878.9">APC</text></g>
<g id="n-dish"><rect class="y" x="730" y="947" width="46" height="13"/><text class="t f65" x="753" y="955.9">Dishevelled</text></g>
<g id="n-friz"><rect class="y" x="788" y="1018" width="32" height="12"/><text class="t f65" x="804" y="1026.4">Frizzeld</text></g>
<g id="n-wnts"><rect class="y" x="710" y="1047" width="44" height="13"/><text class="t f65" x="732" y="1055.9">WNT signal</text></g>
<g id="n-myosine"><rect class="ysh" x="928.5" y="561.5" width="42" height="17" rx="3"/><rect class="m" x="927" y="560" width="42" height="17" rx="3"/><text class="t f72" x="948" y="571.1">myosine</text></g>
<g id="n-ca"><rect class="ysh" x="1075.5" y="558.5" width="33" height="17" rx="3"/><rect class="m" x="1074" y="557" width="33" height="17" rx="3"/><text class="t f72" x="1090.5" y="568.1">Ca 2+</text></g>
<g id="n-pkc"><rect class="my" x="1097" y="593" width="29" height="20" rx="3"/><text class="t f7 bd" x="1111.5" y="605.5">PKC</text></g>
<g id="n-ip3"><rect class="ysh" x="996.5" y="627.5" width="26" height="17" rx="3"/><rect class="m" x="995" y="626" width="26" height="17" rx="3"/><text class="t f72" x="1008" y="637.1">IP 3</text></g>
<g id="n-pi3k-m"><rect class="ysh" x="1074.5" y="660.5" width="34" height="17" rx="3"/><rect class="m" x="1073" y="659" width="34" height="17" rx="3"/><text class="t f72" x="1090" y="670.1">PI 3-K</text></g>
<g id="n-focal"><rect class="ysh" x="815.5" y="684.5" width="70" height="17" rx="3"/><rect class="m" x="814" y="683" width="70" height="17" rx="3"/><text class="t f72" x="849" y="694.1">Focal exositosis</text></g>
<g id="n-erk-m"><rect class="ysh" x="956.5" y="694.5" width="49" height="16" rx="3"/><rect class="m" x="955" y="693" width="49" height="16" rx="3"/><text class="t f72" x="979.5" y="703.6">ERK 1 + 2</text></g>
<g id="n-syk"><rect class="ysh" x="1138.5" y="717.5" width="24" height="17" rx="3"/><rect class="m" x="1137" y="716" width="24" height="17" rx="3"/><text class="t f72" x="1149" y="727.1">Syk</text></g>
<g id="n-actine"><rect class="ysh" x="993.5" y="753.5" width="34" height="16" rx="3"/><rect class="m" x="992" y="752" width="34" height="16" rx="3"/><text class="t f72" x="1009" y="762.6">actine</text></g>
<g id="n-scr"><rect class="ysh" x="1072.5" y="765.5" width="23" height="17" rx="3"/><rect class="m" x="1071" y="764" width="23" height="17" rx="3"/><text class="t f72" x="1082.5" y="775.1">Scr</text></g>
<g id="n-itam"><rect class="ysh" x="1156.5" y="794.5" width="30" height="16" rx="3"/><rect class="m" x="1155" y="793" width="30" height="16" rx="3"/><text class="t f72" x="1170" y="803.6">ITAM</text></g>
<g id="n-igg"><rect class="my" x="1330" y="779" width="51" height="18" rx="3"/><text class="t f63 i" x="1355.5" y="790.3">igG receptor</text></g>
<g id="n-antigen"><rect class="my" x="1448" y="799" width="37" height="18" rx="3"/><text class="t f65 i" x="1466.5" y="810.3">Antigen</text></g>
<g id="n-fcg"><rect class="ysh" x="1215.5" y="870.5" width="76" height="17" rx="3"/><rect class="m" x="1214" y="869" width="76" height="17" rx="3"/><text class="t f66" x="1252" y="879.9">Fc gamma Receptor</text></g>
<g id="n-ligand"><rect class="ysh" x="1328.5" y="912.5" width="33" height="19" rx="3"/><rect class="m" x="1327" y="911" width="33" height="19" rx="3"/><text class="t f72" x="1343.5" y="923.1">ligand</text></g>
<g id="n-pseudo"><rect class="ysh" x="978.5" y="949.5" width="119" height="43" rx="3"/><rect class="m" x="977" y="948" width="119" height="43" rx="3"/><text class="t f75" x="1036.5" y="972.2">Pseudopod extension</text></g>
<g id="n-fago"><rect class="my" x="1172" y="941" width="65" height="29" rx="3"/><text class="t bd" x="1204.5" y="958.1" style="font-size:7.3px">Fagocytose</text></g>
<g id="n-fagl"><rect class="my" x="270" y="1044" width="45" height="16" rx="3"/><text class="t f65" x="292.5" y="1054.3">fagocytose</text></g>
<g id="n-endo"><rect class="ysh" x="73.5" y="1073.5" width="69" height="17" rx="3"/><rect class="m" x="72" y="1072" width="69" height="17" rx="3"/><text class="t" x="106.5" y="1082.5" style="font-size:5.5px">Endocytose pathway</text></g>
<g id="n-fcge"><rect class="m" x="226" y="1089" width="159" height="17" rx="3"/><text class="t f65" x="305.5" y="1099.8">Fc gamma receptor gemedieerde endocytose</text></g>
<g id="n-celc"><rect class="g" x="73" y="1101" width="33" height="13" rx="3"/><text class="t f56" x="89.5" y="1109.5">Celcyclus</text></g>
<g id="n-rtkp"><rect class="r" x="71" y="1124" width="45" height="13" rx="3"/><text class="t f56" x="93.5" y="1132.5">RTK pathway</text></g>
<g id="n-wntp"><rect class="y" x="71" y="1143" width="47" height="13" rx="3"/><text class="t f56" x="94.5" y="1151.5">WNT pathway</text></g>
<g id="n-legenda"><rect x="19" y="1145" width="32" height="14" rx="3" fill="#fff" stroke="#555" stroke-width=".5"/><text class="t f56" x="35" y="1154">Legenda</text></g>
<g id="n-apopp"><rect class="o" x="66" y="1165" width="60" height="13" rx="3"/><text class="t f56" x="96" y="1173.5">Apoptose pathway</text></g>
<g id="n-prot"><rect class="osh" x="232.5" y="1163.5" width="85" height="17" rx="3"/><rect class="cs" x="231" y="1162" width="85" height="17" rx="3"/><text class="t" x="273.5" y="1172.7" style="font-size:6.1px">proteolytische cascade</text></g>
<g id="n-tgfp"><rect class="c" x="67" y="1188" width="61" height="13" rx="3"/><text class="t f56" x="97.5" y="1196.5">TGF-Beta pathway</text></g>
</g>
</svg>
